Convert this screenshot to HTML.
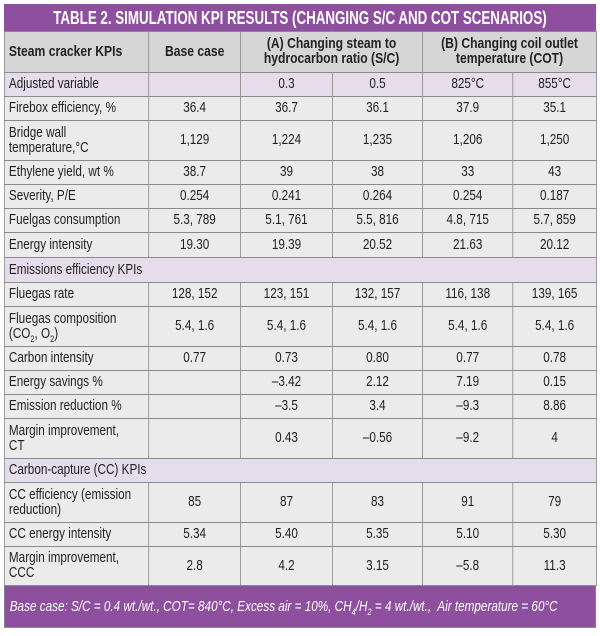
<!DOCTYPE html>
<html><head><meta charset="utf-8"><style>
body{margin:0;width:600px;height:636px;background:#fff;font-family:"Liberation Sans",sans-serif;overflow:hidden;}
.wrap{position:absolute;left:4px;top:4px;width:722px;transform:scaleX(0.82);transform-origin:0 0;}
.title{height:27px;background:#8f4f9f;color:#fff;font-weight:bold;font-size:18.5px;text-align:center;line-height:27px;white-space:nowrap;}
.title span{display:inline-block;transform:scaleX(0.88);}
table{border-collapse:collapse;table-layout:fixed;width:722px;font-size:14.3px;color:#222;}
td{border:1px solid #8a8a8a;background:#ebebeb;text-align:center;padding:0 5px;line-height:15px;white-space:nowrap;}
td.l{text-align:left;}
tr.h td{background:#d6d6d6;font-weight:bold;font-size:14.8px;}
tr.p td{background:#e5dcec;}
sub{font-size:9px;line-height:0;}
.foot{height:42px;background:#8f4f9f;color:#fff;font-style:italic;font-size:14.3px;line-height:42px;padding-left:6px;border:1px solid #8a8a8a;border-top:none;box-sizing:border-box;white-space:nowrap;}
</style></head><body>
<div class="wrap">
<div class="title"><span>TABLE 2. SIMULATION KPI RESULTS (CHANGING S/C AND COT SCENARIOS)</span></div>
<table>
<colgroup><col style="width:176px"><col style="width:112px"><col style="width:112px"><col style="width:110px"><col style="width:110px"><col style="width:102px"></colgroup>
<tr class="h" style="height:41px"><td class="l">Steam cracker KPIs</td><td>Base case</td><td colspan="2">(A) Changing steam to<br>hydrocarbon ratio (S/C)</td><td colspan="2">(B) Changing coil outlet<br>temperature (COT)</td></tr>
<tr class="p" style="height:24px"><td class="l">Adjusted variable</td><td></td><td>0.3</td><td>0.5</td><td>825°C</td><td>855°C</td></tr>
<tr style="height:24px"><td class="l">Firebox efficiency, %</td><td>36.4</td><td>36.7</td><td>36.1</td><td>37.9</td><td>35.1</td></tr>
<tr style="height:40px"><td class="l">Bridge wall<br>temperature,°C</td><td>1,129</td><td>1,224</td><td>1,235</td><td>1,206</td><td>1,250</td></tr>
<tr style="height:24px"><td class="l">Ethylene yield, wt %</td><td>38.7</td><td>39</td><td>38</td><td>33</td><td>43</td></tr>
<tr style="height:24px"><td class="l">Severity, P/E</td><td>0.254</td><td>0.241</td><td>0.264</td><td>0.254</td><td>0.187</td></tr>
<tr style="height:24px"><td class="l">Fuelgas consumption</td><td>5.3, 789</td><td>5.1, 761</td><td>5.5, 816</td><td>4.8, 715</td><td>5.7, 859</td></tr>
<tr style="height:25px"><td class="l">Energy intensity</td><td>19.30</td><td>19.39</td><td>20.52</td><td>21.63</td><td>20.12</td></tr>
<tr class="p" style="height:25px"><td class="l" colspan="6">Emissions efficiency KPIs</td></tr>
<tr style="height:24px"><td class="l">Fluegas rate</td><td>128, 152</td><td>123, 151</td><td>132, 157</td><td>116, 138</td><td>139, 165</td></tr>
<tr style="height:40px"><td class="l">Fluegas composition<br>(CO<sub>2</sub>, O<sub>2</sub>)</td><td>5.4, 1.6</td><td>5.4, 1.6</td><td>5.4, 1.6</td><td>5.4, 1.6</td><td>5.4, 1.6</td></tr>
<tr style="height:24px"><td class="l">Carbon intensity</td><td>0.77</td><td>0.73</td><td>0.80</td><td>0.77</td><td>0.78</td></tr>
<tr style="height:24px"><td class="l">Energy savings %</td><td></td><td>–3.42</td><td>2.12</td><td>7.19</td><td>0.15</td></tr>
<tr style="height:24px"><td class="l">Emission reduction %</td><td></td><td>–3.5</td><td>3.4</td><td>–9.3</td><td>8.86</td></tr>
<tr style="height:40px"><td class="l">Margin improvement,<br>CT</td><td></td><td>0.43</td><td>–0.56</td><td>–9.2</td><td>4</td></tr>
<tr class="p" style="height:24px"><td class="l" colspan="6">Carbon-capture (CC) KPIs</td></tr>
<tr style="height:40px"><td class="l">CC efficiency (emission<br>reduction)</td><td>85</td><td>87</td><td>83</td><td>91</td><td>79</td></tr>
<tr style="height:24px"><td class="l">CC energy intensity</td><td>5.34</td><td>5.40</td><td>5.35</td><td>5.10</td><td>5.30</td></tr>
<tr style="height:39px"><td class="l">Margin improvement,<br>CCC</td><td>2.8</td><td>4.2</td><td>3.15</td><td>–5.8</td><td>11.3</td></tr>
</table>
<div class="foot">Base case: S/C = 0.4 wt./wt., COT= 840°C, Excess air = 10%, CH<sub>4</sub>/H<sub>2</sub> = 4 wt./wt.,&nbsp; Air temperature = 60°C</div>
</div>
</body></html>
